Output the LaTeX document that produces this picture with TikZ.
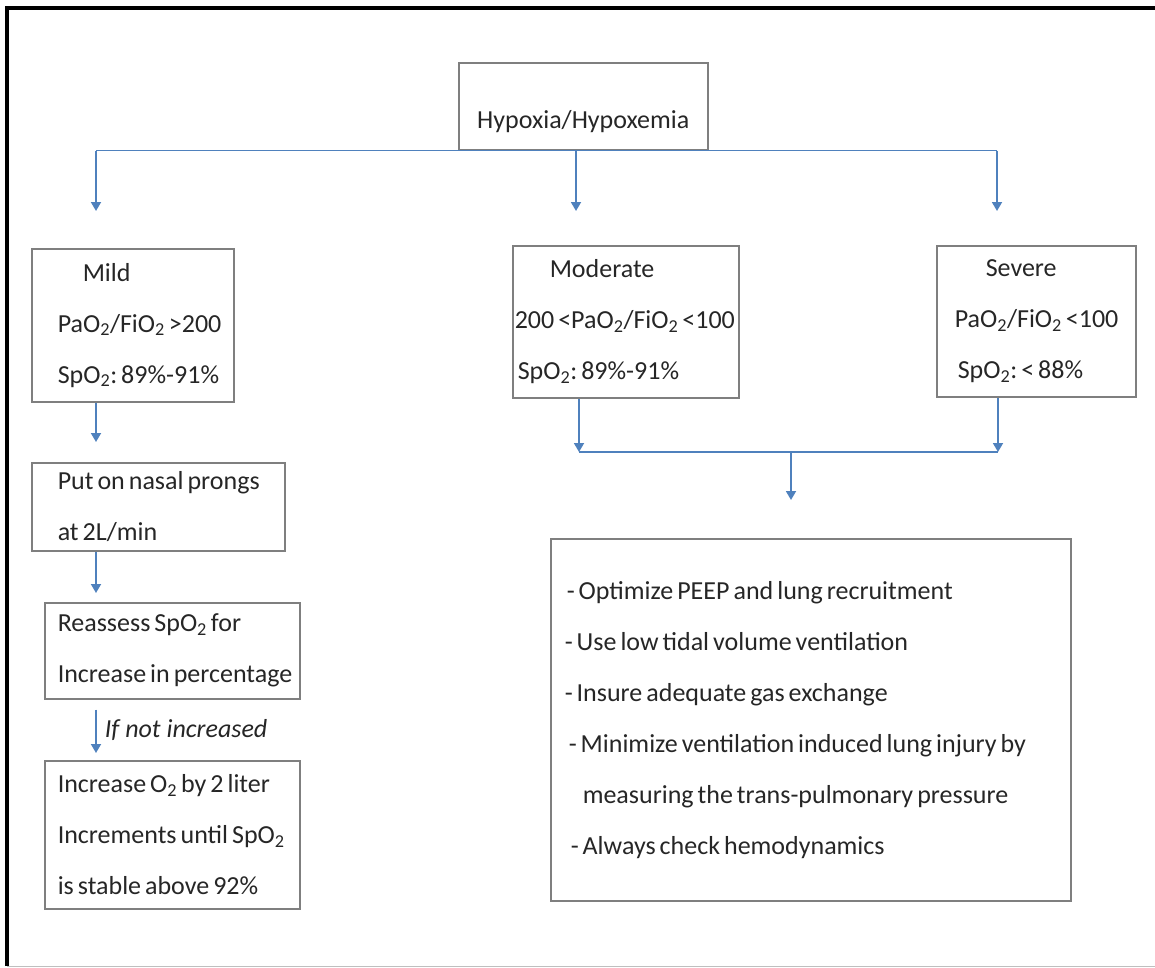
\documentclass[tikz,border=0pt]{standalone}
\usepackage{fontspec}
\setmainfont{Carlito}
\usepackage{xcolor}
\usetikzlibrary{arrows.meta}

\begin{document}
\begin{tikzpicture}[x=1pt,y=-1pt,
  mybox/.style={draw=boxgray,line width=1.5pt,anchor=north west,inner sep=0pt,
    align=left,text=txtgray,font=\fontsize{26pt}{51pt}\selectfont,
    execute at begin node={\frenchspacing\spaceskip=4pt plus 2pt minus 1pt\relax}},
  lpad/.style={execute at begin node={\leftskip=#1}},
  myline/.style={draw=linkblue,line width=1.8pt},
  myarrow/.style={myline,-{Triangle[width=10pt,length=9pt]}},
  mynote/.style={anchor=west,inner sep=0pt,text=txtgray,font=\fontsize{26pt}{30pt}\selectfont\itshape}]
\definecolor{linkblue}{HTML}{4F81BD}
\definecolor{boxgray}{HTML}{7F7F7F}
\definecolor{txtgray}{HTML}{262626}
\useasboundingbox (0,0) rectangle (1155,967);
\coordinate (fbl) at (7,966);
\coordinate (ftr) at (1155,8);
\draw[line width=4pt] (fbl) |- (ftr);
\draw[gray!50,line width=1pt] (fbl) -- (fbl -| ftr);

\node[mybox,align=center,minimum width=249pt,minimum height=87pt,text height=44pt,text depth=0pt] (hyp) at (458,62) {Hypoxia/Hypoxemia};

\node[mybox,text width=202pt,minimum height=153pt,lpad=26pt] (mild) at (31,248)
  {\hspace*{25pt}Mild\\PaO\textsubscript{2}/FiO\textsubscript{2} >200\\SpO\textsubscript{2}: 89\%-91\%};
\node[mybox,text width=226pt,minimum height=152pt,lpad=2pt] (mod) at (512,245)
  {\hspace*{35pt}Moderate\\200~<PaO\textsubscript{2}/FiO\textsubscript{2}~<100\\\hspace*{3pt}SpO\textsubscript{2}: 89\%-91\%};
\node[mybox,text width=199pt,minimum height=151pt,lpad=18pt] (sev) at (936,245)
  {\hspace*{31pt}Severe\\PaO\textsubscript{2}/FiO\textsubscript{2} <100\\\hspace*{3pt}SpO\textsubscript{2}: < 88\%};

\node[mybox,text width=253pt,minimum height=88pt,lpad=26pt] (nasal) at (31,462)
  {Put on nasal prongs\\at 2L/min};
\node[mybox,text width=255pt,minimum height=96pt,lpad=13pt] (reas) at (44,602)
  {Reassess SpO\textsubscript{2} for\\Increase~in~percentage};
\node[mybox,text width=255pt,minimum height=148pt,lpad=13pt] (inc) at (44,760)
  {Increase O\textsubscript{2} by 2 liter\\Increments until SpO\textsubscript{2}\\is stable above 92\%};

\node[mybox,text width=520pt,minimum height=362pt,lpad=14pt] (act) at (550,538)
  {\hspace*{2pt}- Optimize PEEP and lung recruitment\\- Use low tidal volume ventilation\\- Insure adequate gas exchange\\
   \hspace*{4pt}-~Minimize~ventilation~induced~lung~injury~by\\\hspace*{18pt}measuring the trans-pulmonary pressure\\\hspace*{6pt}- Always check hemodynamics};

\coordinate (tmild) at (96,211);
\coordinate (tmod) at (576,211);
\coordinate (tsev) at (997,211);
\draw[myline] (tmild |- hyp.south) -- (tsev |- hyp.south);
\foreach \tip in {tmild,tmod,tsev}
  \draw[myarrow] (\tip |- hyp.south) -- (\tip);

\draw[myarrow,shorten >=20pt] (tmild |- mild.south) -- (tmild |- nasal.north);
\draw[myarrow,shorten >=9pt] (tmild |- nasal.south) -- (tmild |- reas.north);
\draw[myarrow,shorten <=10pt,shorten >=7pt] (tmild |- reas.south) -- node[mynote,xshift=8pt] (ifnot) {If not increased} (tmild |- inc.north);

\coordinate (jmod) at (579,452);
\coordinate (jsev) at (998,452);
\coordinate (jmid) at (791,452);
\coordinate (tact) at (791,500);
\draw[myarrow] (jmod |- mod.south) -- (jmod);
\draw[myarrow] (jsev |- sev.south) -- (jsev);
\draw[myline] (jmod) -- (jsev);
\draw[myarrow] (jmid) -- (tact);
\end{tikzpicture}
\end{document}
